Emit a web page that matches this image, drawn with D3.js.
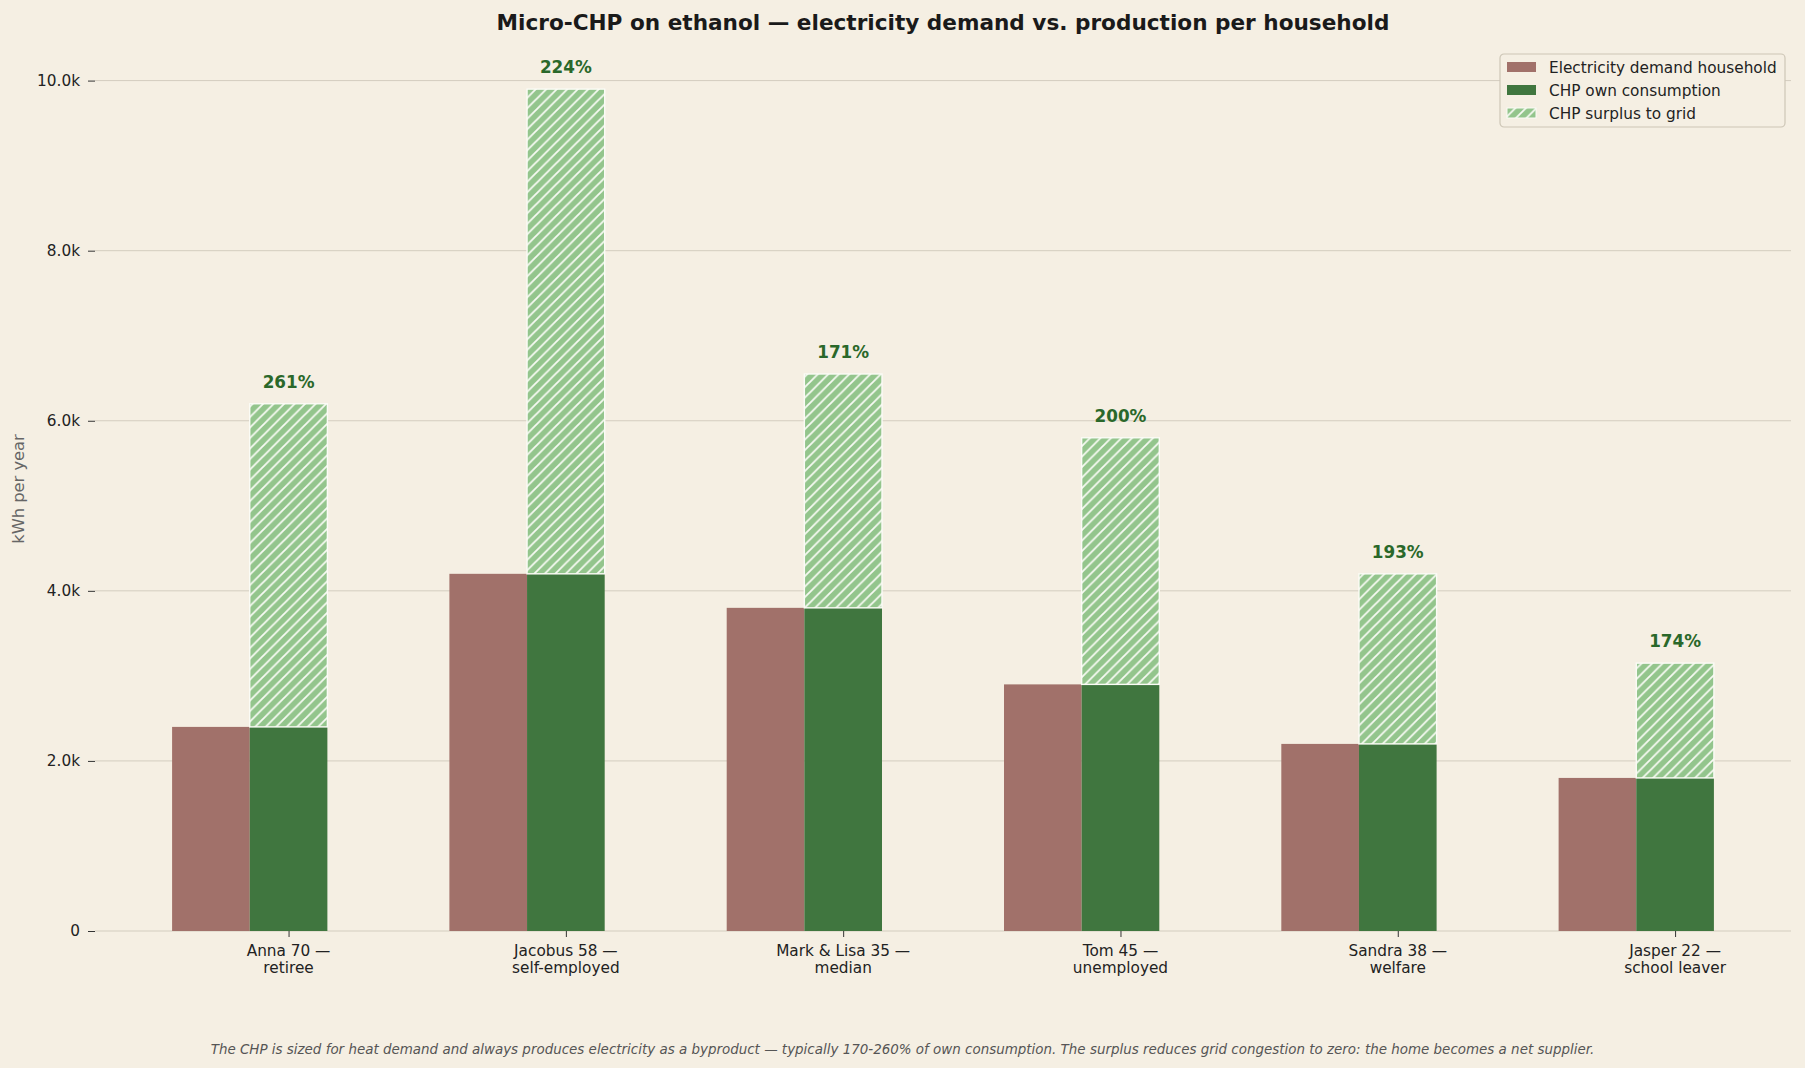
<!DOCTYPE html>
<html>
<head>
<meta charset="utf-8">
<script src="https://cdn.jsdelivr.net/npm/d3@7"></script>
<style>
  body { margin: 0; background: #f5efe3; }
  #chart text { font-family: "DejaVu Sans", sans-serif; }
</style>
</head>
<body>
<div id="chart"></div>
<script>
// households (two-line tick labels)
const households = ["Anna 70 —", "Jacobus 58 —", "Mark & Lisa 35 —", "Tom 45 —", "Sandra 38 —", "Jasper 22 —"];
const roles = ["retiree", "self-employed", "median", "unemployed", "welfare", "school leaver"];

// kWh per year
const demand = [2400, 4200, 3800, 2900, 2200, 1800];
const production = [6200, 9900, 6550, 5800, 4200, 3150];
const ratioLabels = ["261%", "224%", "171%", "200%", "193%", "174%"];

const yTicks = [0, 2000, 4000, 6000, 8000, 10000];
const seriesNames = ["Electricity demand household", "CHP own consumption", "CHP surplus to grid"];

const W = 1805, H = 1068;
const margin = {top: 47, right: 14, bottom: 137, left: 95};
const width = W - margin.left - margin.right,
    height = H - margin.top - margin.bottom;

const colDemand = "#a1716a", colOwn = "#40763f", colSurplus = "#93c58c";

let svg = d3.select("#chart").append("svg")
    .attr("width", W)
    .attr("height", H);

svg.append("rect").attr("width", W).attr("height", H).attr("fill", "#f5efe3");

// hatch for the surplus part ("//")
let defs = svg.append("defs");
const hs = 10.5;
let pat = defs.append("pattern")
    .attr("id", "hatch")
    .attr("patternUnits", "userSpaceOnUse")
    .attr("width", hs).attr("height", hs);
pat.append("rect").attr("width", hs).attr("height", hs).attr("fill", colSurplus);
pat.append("path")
    .attr("d", `M0,${hs} L${hs},0 M-1,1 L1,-1 M${hs - 1},${hs + 1} L${hs + 1},${hs - 1}`)
    .attr("stroke", "#f7faf3")
    .attr("stroke-width", 1.8);

let g = svg.append("g")
    .attr("transform", "translate(" + margin.left + "," + margin.top + ")");

const barW = 0.28;
let x = d3.scaleLinear()
    .domain([-barW - 0.278, households.length - 1 + barW + 0.278])
    .range([0, width]);

let y = d3.scaleLinear()
    .domain([0, d3.max(production) * 1.05])
    .range([height, 0]);

// grid lines
g.append("g")
    .selectAll("line")
    .data(yTicks)
    .join("line")
    .attr("x1", 0).attr("x2", width)
    .attr("y1", d => y(d)).attr("y2", d => y(d))
    .attr("stroke", "#d3cdbf")
    .attr("stroke-width", 1);

// y axis
let yAxis = g.append("g")
    .call(d3.axisLeft(y).tickValues(yTicks)
        .tickFormat(d => d === 0 ? "0" : (d / 1000).toFixed(1) + "k")
        .tickSize(7).tickPadding(8));
yAxis.select(".domain").remove();
yAxis.selectAll("line").attr("stroke", "#333");
yAxis.selectAll("text").attr("font-size", "15.3px").attr("fill", "#222");

// x axis, ticks sit under the CHP bar
let xAxis = g.append("g")
    .attr("transform", "translate(0," + height + ")")
    .call(d3.axisBottom(x).tickValues(d3.range(households.length).map(i => i + barW / 2))
        .tickSize(6).tickFormat(""));
xAxis.select(".domain").remove();
xAxis.selectAll("line").attr("stroke", "#333");

let xl = g.append("g").selectAll("text")
    .data(households)
    .join("text")
    .attr("x", (d, i) => x(i + barW / 2))
    .attr("y", height + 25)
    .attr("text-anchor", "middle")
    .attr("font-size", "15.3px")
    .attr("fill", "#222");
xl.append("tspan").text(d => d);
xl.append("tspan")
    .attr("x", (d, i) => x(i + barW / 2))
    .attr("dy", 17)
    .text((d, i) => roles[i]);

const bw = x(barW) - x(0);

// demand bars
g.append("g").selectAll("rect")
    .data(demand)
    .join("rect")
    .attr("x", (d, i) => x(i - barW))
    .attr("width", bw)
    .attr("y", d => y(d))
    .attr("height", d => height - y(d))
    .attr("fill", colDemand);

// own consumption
g.append("g").selectAll("rect")
    .data(demand)
    .join("rect")
    .attr("x", (d, i) => x(i))
    .attr("width", bw)
    .attr("y", (d, i) => y(Math.min(d, production[i])))
    .attr("height", (d, i) => height - y(Math.min(d, production[i])))
    .attr("fill", colOwn);

// surplus on top
g.append("g").selectAll("rect")
    .data(production)
    .join("rect")
    .attr("x", (d, i) => x(i))
    .attr("width", bw)
    .attr("y", d => y(d))
    .attr("height", (d, i) => y(demand[i]) - y(d))
    .attr("fill", "url(#hatch)")
    .attr("stroke", "#fbfbf6")
    .attr("stroke-width", 1.4);

// ratio labels
g.append("g").selectAll("text")
    .data(production)
    .join("text")
    .attr("x", (d, i) => x(i + barW / 2))
    .attr("y", d => y(d) - 16)
    .attr("text-anchor", "middle")
    .attr("font-size", "16.8px")
    .attr("font-weight", "bold")
    .attr("fill", "#2a682a")
    .text((d, i) => ratioLabels[i]);

// y label
svg.append("text")
    .attr("transform", "translate(24," + (margin.top + height / 2) + ") rotate(-90)")
    .attr("text-anchor", "middle")
    .attr("font-size", "16.3px")
    .attr("fill", "#666")
    .text("kWh per year");

// title
svg.append("text")
    .attr("x", margin.left + width / 2)
    .attr("y", 30)
    .attr("text-anchor", "middle")
    .attr("font-size", "21.6px")
    .attr("font-weight", "bold")
    .attr("fill", "#1a1a1a")
    .text("Micro-CHP on ethanol — electricity demand vs. production per household");

// footnote
svg.append("text")
    .attr("x", W / 2)
    .attr("y", 1054)
    .attr("text-anchor", "middle")
    .attr("font-size", "13.45px")
    .attr("font-style", "italic")
    .attr("fill", "#555")
    .text("The CHP is sized for heat demand and always produces electricity as a byproduct — typically 170-260% of own consumption. The surplus reduces grid congestion to zero: the home becomes a net supplier.");

// legend
let lg = svg.append("g").attr("transform", "translate(1500,54)");
lg.append("rect")
    .attr("width", 285).attr("height", 73)
    .attr("rx", 4)
    .attr("fill", "#f5efe3")
    .attr("stroke", "#cdc6b6")
    .attr("stroke-width", 1.2);
const legFills = [colDemand, colOwn, "url(#hatch)"];
seriesNames.forEach((name, i) => {
    let row = lg.append("g").attr("transform", "translate(0," + (13 + i * 23) + ")");
    row.append("rect")
        .attr("x", 7).attr("y", -5)
        .attr("width", 29).attr("height", 10)
        .attr("fill", legFills[i])
        .attr("stroke", i === 2 ? "#fbfbf6" : "none");
    row.append("text")
        .attr("x", 49).attr("y", 5.5)
        .attr("font-size", "15.3px")
        .attr("fill", "#222")
        .text(name);
});
</script>
</body>
</html>
